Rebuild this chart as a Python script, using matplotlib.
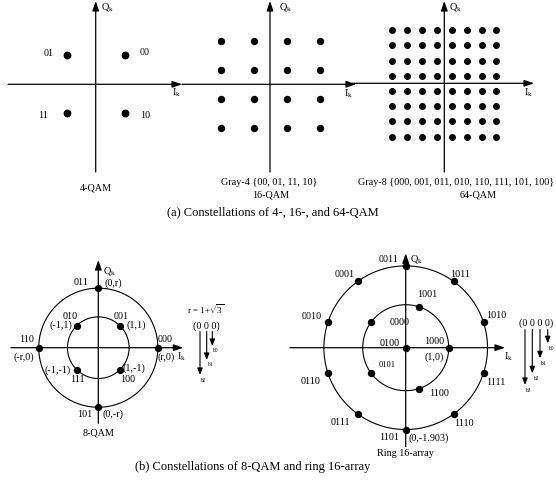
import numpy as np
import matplotlib
matplotlib.use("Agg")
import matplotlib.pyplot as plt

plt.rcParams["font.family"] = ["Liberation Serif", "DejaVu Serif"]
plt.rcParams["mathtext.fontset"] = "custom"
plt.rcParams["mathtext.rm"] = "Liberation Serif"
plt.rcParams["mathtext.it"] = "Liberation Serif:italic"

# ---------------- constellation data ----------------
qam4_bits = ["00", "01", "11", "10"]
qam4_i = [1, -1, -1, 1]
qam4_q = [1, 1, -1, -1]

gray4 = ["00", "01", "11", "10"]
qam16_levels = [-3, -1, 1, 3]

gray8 = ["000", "001", "011", "010", "110", "111", "101", "100"]
qam64_levels = [-7, -5, -3, -1, 1, 3, 5, 7]

r8 = 1 + np.sqrt(3)
qam8_bits = ["000", "001", "011", "010", "110", "111", "101", "100"]
qam8_coords = ["(r,0)", "(1,1)", "(0,r)", "(-1,1)", "(-r,0)", "(-1,-1)", "(0,-r)", "(1,-1)"]
qam8_i = [r8, 1, 0, -1, -r8, -1, 0, 1]
qam8_q = [0, 1, r8, 1, 0, -1, -r8, -1]
qam8_inner_r = np.sqrt(2)

ring_inner_r = 1.0
ring_outer_r = 1.903
ring_center_bits = "0100"
ring_inner_deg = [0, 72, 144, 216, 288]
ring_inner_bits = ["1000", "1001", "0000", "0101", "1100"]
ring_outer_deg = [90, 54, 18, -18, -54, -90, -126, -162, 162, 126]
ring_outer_bits = ["0011", "1011", "1010", "1111", "1110",
                   "1101", "0111", "0110", "0010", "0001"]

# ---------------- figure / helpers ----------------
W, H = 556, 482
fig = plt.figure(figsize=(W / 100, H / 100), dpi=100)
fig.patch.set_facecolor("white")

canvas = fig.add_axes([0, 0, 1, 1])
canvas.set_xlim(0, W)
canvas.set_ylim(H, 0)
canvas.axis("off")

FS = 7.3
PT = 0.72  # pixels -> points


def panel(cx, cy, sx, sy=None):
    """Transparent full-figure axes whose data origin sits at pixel (cx, cy)."""
    sy = sx if sy is None else sy
    ax = fig.add_axes([0, 0, 1, 1])
    ax.set_xlim(-cx / sx, (W - cx) / sx)
    ax.set_ylim(-(H - cy) / sy, cy / sy)
    ax.axis("off")
    ax.patch.set_alpha(0)
    return ax


def arrow(x0, y0, x1, y1, hl=0.58, hw=0.2, lw=0.9):
    canvas.annotate("", xy=(x1, y1), xytext=(x0, y0),
                    arrowprops=dict(arrowstyle=f"-|>,head_length={hl},head_width={hw}",
                                    lw=lw, color="black", shrinkA=0, shrinkB=0,
                                    mutation_scale=10))


def text(x, y, s, size=FS, ha="center", va="center"):
    canvas.text(x, y, s, fontsize=size, ha=ha, va=va, color="black")


def tag(ax, x, y, s, dx, dy, size=FS):
    ax.annotate(s, xy=(x, y), xytext=(dx * PT, -dy * PT), textcoords="offset points",
                ha="center", va="center", fontsize=size, color="black")


def circle(ax, R, lw=0.8):
    t = np.linspace(0, 2 * np.pi, 400)
    ax.plot(R * np.cos(t), R * np.sin(t), color="black", lw=lw)


QK = "Q$_{\\mathrm{k}}$"
IK = "I$_{\\mathrm{k}}$"

# ---------------- (a) 4-QAM ----------------
ax4 = panel(95.7, 84.3, 29.2, 29.0)
arrow(8, 84.3, 182, 84.3)
arrow(95.7, 172, 95.7, 1)
text(101, 7, QK, ha="left")
text(177, 93, IK)
ax4.plot(qam4_i, qam4_q, "o", ms=4.6, color="black", clip_on=False)
off4 = {"00": (19.5, -2.7), "01": (-18, -1.7), "11": (-23, 2.3), "10": (20, 2.3)}
for b, x, y in zip(qam4_bits, qam4_i, qam4_q):
    tag(ax4, x, y, b, *off4[b])
text(96, 188, "4-QAM")

# ---------------- (a) 16-QAM ----------------
ax16 = panel(270, 84.3, 16.5, 14.5)
arrow(182, 84.3, 356, 84.3)
arrow(270, 172, 270, 1)
text(279, 7, QK, ha="left")
text(349, 94, IK)
gi, gq = np.meshgrid(qam16_levels, qam16_levels)
ax16.plot(gi.ravel(), gq.ravel(), "o", ms=4.3, color="black", clip_on=False)
text(269.5, 182.7, "Gray-4 {" + ", ".join(gray4) + "}")
text(271, 195, "16-QAM")

# ---------------- (a) 64-QAM ----------------
ax64 = panel(444.3, 83.3, 7.45, 7.6)
arrow(352, 83.3, 534, 83.3)
arrow(444.3, 172, 444.3, 1)
text(449, 7, QK, ha="left")
text(529, 93, IK)
gi, gq = np.meshgrid(qam64_levels, qam64_levels)
ax64.plot(gi.ravel(), gq.ravel(), "o", ms=4.0, color="black", clip_on=False)
text(456, 182.7, "Gray-8 {" + ", ".join(gray8) + "}")
text(478, 195, "64-QAM")

text(272.5, 212.7, "(a) Constellations of 4-, 16-, and 64-QAM", size=9)

# ---------------- (b) 8-QAM ----------------
ax8 = panel(98.3, 347.7, 21.8)
arrow(11, 347.7, 183.3, 347.7)
arrow(98.3, 423.3, 98.3, 260)
text(103, 270.7, QK, ha="left")
text(182, 357, IK)
circle(ax8, r8)
circle(ax8, qam8_inner_r)
ax8.plot(qam8_i, qam8_q, "o", ms=4.2, color="black", clip_on=False)
off8_bits = {"011": (-17.3, -5.3), "001": (1, -9.7), "010": (-6, -9.7),
             "000": (7.5, -7.7), "110": (-11.7, -7.7), "111": (0.6, 10),
             "100": (7.4, 10), "101": (-14, 7.3)}
off8_xy = {"(0,r)": (14.7, -5.3), "(1,1)": (16, -0.7), "(-1,1)": (-16, -0.7),
           "(r,0)": (8.5, 9), "(-r,0)": (-15, 9), "(-1,-1)": (-18.4, 0.6),
           "(1,-1)": (14, -1), "(0,-r)": (15, 7.3)}
for b, c, x, y in zip(qam8_bits, qam8_coords, qam8_i, qam8_q):
    tag(ax8, x, y, b, *off8_bits[b])
    tag(ax8, x, y, c, *off8_xy[c])
text(98.3, 433.3, "8-QAM")

text(205.7, 309.3, "r = 1+$\\sqrt{3}$", size=6.5)
text(206.7, 326.5, "(0 0 0)")
for x, tip, name in [(212.3, 346, "b0"), (206.7, 360, "b1"), (200, 375, "b2")]:
    arrow(x, 331.5, x, tip, hl=0.4, hw=0.16, lw=0.8)
    text(x + 3.8, tip + 5, name, size=4)

# ---------------- (b) ring 16-array ----------------
axr = panel(405.7, 347.7, 43.0)
arrow(290, 347.7, 505, 347.7)
arrow(405.7, 446.7, 405.7, 253.3)
text(410, 259.3, QK, ha="left")
text(508.3, 356.7, IK)
circle(axr, ring_outer_r)
circle(axr, ring_inner_r)

ti = np.deg2rad(ring_inner_deg)
to = np.deg2rad(ring_outer_deg)
inner_x, inner_y = ring_inner_r * np.cos(ti), ring_inner_r * np.sin(ti)
outer_x, outer_y = ring_outer_r * np.cos(to), ring_outer_r * np.sin(to)
axr.plot([0], [0], "o", ms=4.3, color="black", clip_on=False)
axr.plot(inner_x, inner_y, "o", ms=4.3, color="black", clip_on=False)
axr.plot(outer_x, outer_y, "o", ms=4.3, color="black", clip_on=False)

offr = {"0011": (-17.4, -6.6), "1011": (6.6, -7.4), "1010": (12.7, -7),
        "1111": (12.6, 10), "1110": (10, 10), "1101": (-16.7, 8.3),
        "0111": (-17.4, 9), "0110": (-17.3, 8.3), "0010": (-16.6, -5.7),
        "0001": (-12.7, -6.7), "1000": (-14.4, -6), "1001": (8.3, -12.6),
        "0000": (28.4, 0), "0101": (16.6, -7.6), "1100": (20, 5),
        "0100": (-15.7, -4.4)}
tag(axr, 0, 0, ring_center_bits, *offr[ring_center_bits])
for b, x, y in zip(ring_inner_bits, inner_x, inner_y):
    tag(axr, x, y, b, *offr[b], size=6.0 if b == "0101" else FS)
for b, x, y in zip(ring_outer_bits, outer_x, outer_y):
    tag(axr, x, y, b, *offr[b])
tag(axr, ring_inner_r, 0, "(1,0)", -15, 9)
tag(axr, 0, -ring_outer_r, "(0,-1.903)", 22.6, 8.3)
text(405, 454, "Ring 16-array")

text(536, 323.3, "(0 0 0 0)")
for x, tip, name in [(547.7, 343.3, "b0"), (540, 358.3, "b1"),
                     (532.3, 373.3, "b2"), (525, 385, "b3")]:
    arrow(x, 329.5, x, tip, hl=0.4, hw=0.16, lw=0.8)
    text(x + 4, tip + 5, name, size=4)

text(253, 466.7, "(b) Constellations of 8-QAM and ring 16-array", size=9)

fig.savefig("out.png", dpi=100)
